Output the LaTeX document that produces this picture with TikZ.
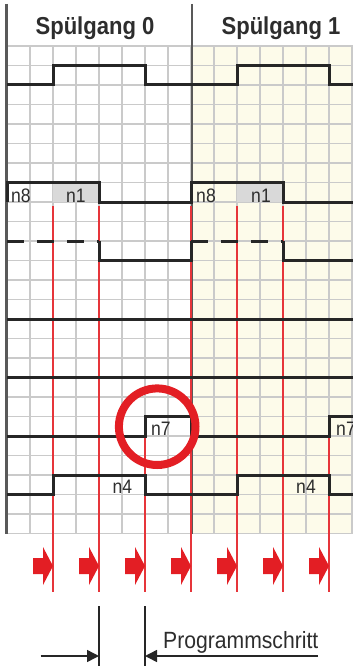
\documentclass[tikz,border=0pt]{standalone}
\usepackage{fontspec}
\setmainfont{Liberation Sans}[FakeStretch=0.9]
\usepackage{tikz}
\usetikzlibrary{arrows.meta, positioning}
\definecolor{cremecolor}{RGB}{253,251,234}
\definecolor{gridcolor}{RGB}{202,202,202}
\definecolor{signalred}{RGB}{227,30,36}
\definecolor{textgray}{RGB}{45,45,45}

\begin{document}
\begin{tikzpicture}[
    x=1pt, y=-1pt,
    gridline/.style={draw=gridcolor, line width=1.3pt},
    divider/.style={draw=black!65, line width=2.5pt},
    signal/.style={draw=black!85, line width=3pt},
    dashsignal/.style={signal, dash pattern=on 17pt off 13pt},
    redline/.style={draw=signalred!90, line width=1.5pt},
    siglabel/.style={font=\fontsize{19.5}{21}\selectfont, text=textgray, anchor=base, inner sep=0pt},
    gangtitle/.style={font=\bfseries\fontsize{24.5}{26}\selectfont, text=textgray, anchor=base, inner sep=0pt},
    arrow/.style={-{Triangle[length=12pt, width=12pt]}, line width=1.5pt, draw=black!85}
]
\useasboundingbox (0,0) rectangle (353,666);

% background and grid
\fill[cremecolor] (191,46) rectangle (353,533.5);
\foreach \i in {0,...,15}
    \draw[gridline] ({7+23*\i},46) -- ({7+23*\i},533.5);
\foreach \k in {0,...,25}
    \draw[gridline] (7,{46+19.5*\k}) -- (353,{46+19.5*\k});
\fill[gray!30] (53,182.5) rectangle (99,202);
\fill[gray!30] (237,182.5) rectangle (283,202);
\draw[divider] (6.3,4) -- (6.3,533.5);
\draw[divider] (192,4) -- (192,533.5);

% titles
\node[gangtitle] (gang0) at (95,35) {Spülgang 0};
\node[gangtitle] (gang1) at (281,34.5) {Spülgang 1};

% red step lines
\foreach \x in {53,99,191,237,283}
    \draw[redline] (\x,206) -- (\x,592);
\foreach \x in {145,329}
    \draw[redline] (\x,437) -- (\x,592);

% signals
\draw[signal] (7,85) -- (53,85) -- (53,65.5) -- (145,65.5) -- (145,85) -- (237,85)
    -- (237,65.5) -- (329,65.5) -- (329,85) -- (353,85);
\draw[signal] (7,202) -- (7,182.5) -- (99,182.5) -- (99,202) -- (191,202) -- (191,182.5)
    -- (283,182.5) -- (283,202) -- (353,202);
\draw[dashsignal] (7,241) -- (99,241);
\draw[signal] (99,241) -- (99,260.5) -- (191,260.5) -- (191,241);
\draw[dashsignal] (191,241) -- (283,241);
\draw[signal] (283,241) -- (283,260.5) -- (353,260.5);
\draw[signal] (7,319) -- (353,319);
\draw[signal] (7,377.5) -- (353,377.5);
\draw[signal] (7,436) -- (145,436) -- (145,416.5) -- (191,416.5) -- (191,436) -- (329,436)
    -- (329,416.5) -- (353,416.5);
\draw[signal] (7,494.5) -- (53,494.5) -- (53,475) -- (145,475) -- (145,494.5) -- (237,494.5)
    -- (237,475) -- (329,475) -- (329,494.5) -- (353,494.5);

\node[siglabel] (n8a) at (21,202) {n8};
\node[siglabel] (n1a) at (76,202) {n1};
\node[siglabel] (n8b) at (206,202) {n8};
\node[siglabel] (n1b) at (261,202) {n1};
\node[siglabel] (n7a) at (161,435) {n7};
\node[siglabel] (n7b) at (346,435) {n7};
\node[siglabel] (n4a) at (122.5,493.5) {n4};
\node[siglabel] (n4b) at (306,493.5) {n4};

\draw[draw=signalred, line width=8pt] (157.2,426.7) circle (38.3);

% block arrows
\foreach \x in {53,99,145,191,237,283,329}
    \fill[signalred] ({\x-20},558) -- ({\x-10},558) -- ({\x-10},547) -- (\x,566)
        -- ({\x-10},585) -- ({\x-10},574) -- ({\x-20},574) -- cycle;

% programme step
\coordinate (stepa) at (99,606);
\coordinate (stepb) at (145,606);
\coordinate (taila) at (40.7,656);
\coordinate (tailb) at (318,656);
\draw[line width=1.5pt, black!85] (stepa) -- (99,666);
\draw[line width=1.5pt, black!85] (stepb) -- (145,666);
\draw[arrow] (taila) -- (stepa |- taila);
\draw[arrow] (tailb) -- (stepb |- tailb);
\node[anchor=base west, inner sep=0pt, text=textgray, font=\fontsize{23.5}{25}\selectfont] (schritt) at (163,648) {Programmschritt};
\end{tikzpicture}
\end{document}
